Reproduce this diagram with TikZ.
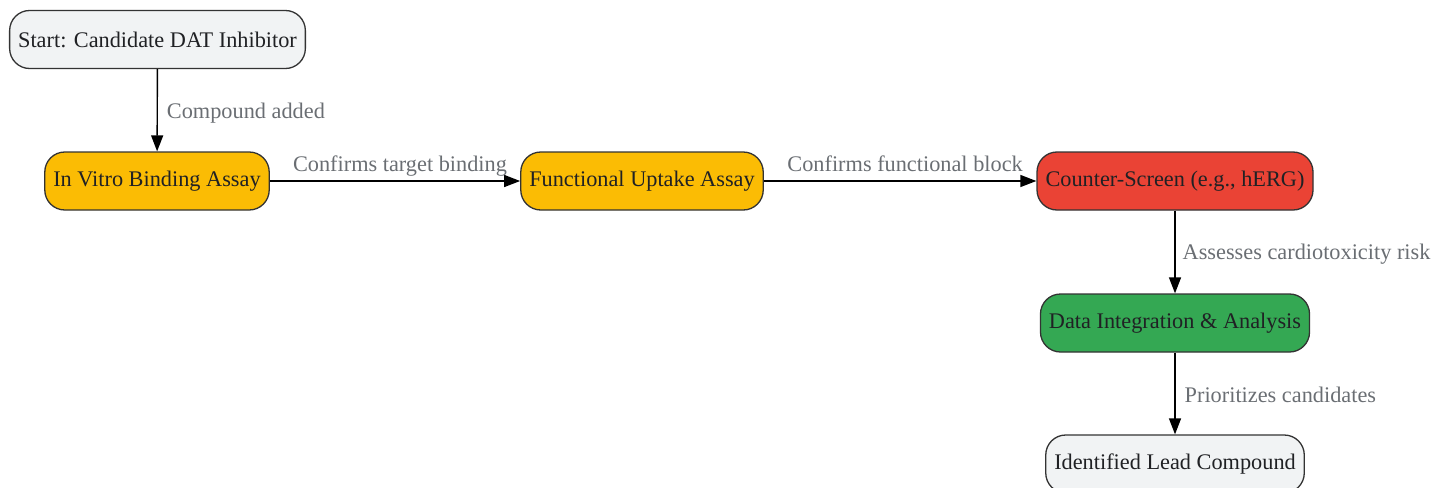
\documentclass[tikz,border=0pt]{standalone}
\usepackage{fontspec}
\setmainfont{Liberation Serif}
\usetikzlibrary{arrows.meta}
\begin{document}
\begin{tikzpicture}[x=1pt,y=-1pt]
\definecolor{customcolor0}{HTML}{333333}
\definecolor{customcolor1}{HTML}{F1F3F4}
\definecolor{customcolor2}{HTML}{FBBC04}
\definecolor{customcolor3}{HTML}{EA4335}
\definecolor{customcolor4}{HTML}{34A853}
\definecolor{customcolor5}{HTML}{6A6E73}
\definecolor{customcolor6}{HTML}{202124}
\tikzset{
  stepbox/.style={draw=customcolor0,line width=1.3pt,rounded corners=20pt,minimum height=58pt,inner xsep=8.5pt,text=customcolor6,font=\fontsize{22.3}{26}\selectfont},
  link/.style={-{Triangle[length=16pt,width=12pt]},black,line width=1.4pt},
  linklabel/.style={text=customcolor5,font=\fontsize{22.3}{26}\selectfont,inner sep=0pt}
}
\useasboundingbox (0,0) rectangle (1434,487);
\node[stepbox,fill=customcolor1] (start) at (157.5,39.5) {Start: Candidate DAT Inhibitor};
\node[stepbox,fill=customcolor2] (binding) at (157,181) {In Vitro Binding Assay};
\node[stepbox,fill=customcolor2] (uptake) at (642,181) {Functional Uptake Assay};
\node[stepbox,fill=customcolor3] (counter) at (1175,181) {Counter-Screen (e.g., hERG)};
\node[stepbox,fill=customcolor4] (integration) at (1175,323) {Data Integration \& Analysis};
\node[stepbox,fill=customcolor1] (lead) at (1175,464) {Identified Lead Compound};
\draw[link] (start) -- node[linklabel,anchor=west,xshift=9pt,yshift=-3pt] {Compound added} (binding);
\draw[link] (binding) -- node[linklabel,anchor=base,xshift=5pt,yshift=10pt] {Confirms target binding} (uptake);
\draw[link] (uptake) -- node[linklabel,anchor=base,xshift=5pt,yshift=10pt] {Confirms functional block} (counter);
\draw[link] (counter) -- node[linklabel,anchor=west,xshift=7pt,yshift=-2pt] {Assesses cardiotoxicity risk} (integration);
\draw[link] (integration) -- node[linklabel,anchor=west,xshift=9pt,yshift=-1pt] {Prioritizes candidates} (lead);
\end{tikzpicture}
\end{document}
